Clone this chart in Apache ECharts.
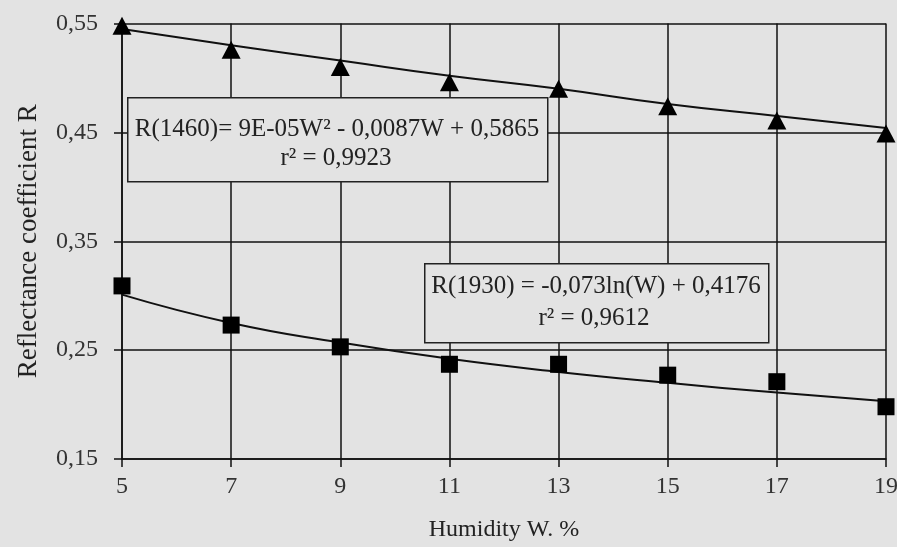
<!DOCTYPE html>
<html>
<head>
<meta charset="utf-8">
<script src="https://cdn.jsdelivr.net/npm/echarts@6/dist/echarts.min.js"></script>
<style>
html,body{margin:0;padding:0;background:#e3e3e3;}
#c{width:897px;height:547px;}
</style>
</head>
<body>
<div id="c"></div>
<script>
var humidity = [5, 7, 9, 11, 13, 15, 17, 19];
var r1460 = [0.548, 0.526, 0.510, 0.496, 0.490, 0.474, 0.461, 0.449];
var r1930 = [0.309, 0.273, 0.253, 0.237, 0.237, 0.227, 0.221, 0.198];
var trend1460 = [0.545, 0.530, 0.516, 0.502, 0.490, 0.476, 0.465, 0.454];
var trend1930 = [0.301, 0.275, 0.257, 0.242, 0.230, 0.220, 0.211, 0.203];
var yTicks = [0.15, 0.25, 0.35, 0.45, 0.55];
var eq1460 = ['R(1460)= 9E-05W\u00B2 - 0,0087W + 0,5865', 'r\u00B2 = 0,9923'];
var eq1930 = ['R(1930) = -0,073ln(W) + 0,4176', 'r\u00B2 = 0,9612'];

function pairs(xs, ys){ return xs.map(function(x,i){ return [x, ys[i]]; }); }

var chart = echarts.init(document.getElementById('c'));
var font = '"Liberation Serif", "Times New Roman", serif';
var txt = '#222';
chart.setOption({
  backgroundColor: '#e3e3e3',
  animation: false,
  grid: {left: 122, right: 11, top: 23.5, bottom: 88, containLabel: false, outerBoundsMode: 'none'},
  xAxis: {
    type: 'value', min: 5, max: 19, interval: 2,
    name: 'Humidity W. %', nameLocation: 'middle', nameGap: 59,
    nameTextStyle: {fontFamily: font, fontSize: 24, color: txt},
    axisLine: {show: true, lineStyle: {color: '#111', width: 1.5}},
    axisTick: {show: true, length: 8, inside: false, lineStyle: {color: '#111', width: 1.5}},
    axisLabel: {fontFamily: font, fontSize: 24, color: '#333', margin: 16},
    splitLine: {show: true, lineStyle: {color: '#111', width: 1.5}}
  },
  yAxis: {
    type: 'value', min: 0.15, max: 0.55, interval: 0.1,
    name: 'Reflectance coefficient R', nameLocation: 'middle', nameGap: 80,
    nameTextStyle: {fontFamily: font, fontSize: 27, color: txt},
    axisLine: {show: true, lineStyle: {color: '#111', width: 1.5}},
    axisTick: {show: true, length: 8, lineStyle: {color: '#111', width: 1.5}},
    axisLabel: {fontFamily: font, fontSize: 24, color: '#333', margin: 24,
      formatter: function(v){ var t = yTicks.reduce(function(a,b){return Math.abs(b-v)<Math.abs(a-v)?b:a;}); return t.toFixed(2).replace('.', ','); }},
    splitLine: {show: true, lineStyle: {color: '#111', width: 1.5}}
  },
  series: [
    {type: 'line', data: pairs(humidity, trend1460), symbol: 'none', smooth: true,
     lineStyle: {color: '#111', width: 2}, z: 3},
    {type: 'line', data: pairs(humidity, trend1930), symbol: 'none', smooth: true,
     lineStyle: {color: '#111', width: 2}, z: 3},
    {type: 'scatter', data: pairs(humidity, r1460), symbol: 'triangle', symbolSize: [19, 18],
     itemStyle: {color: '#000', opacity: 1}, z: 5},
    {type: 'scatter', data: pairs(humidity, r1930), symbol: 'rect', symbolSize: [17, 17],
     itemStyle: {color: '#000', opacity: 1}, z: 5}
  ],
  graphic: [
    {type: 'rect', left: 127, top: 97, z: 10,
     shape: {width: 420, height: 84},
     style: {fill: '#e3e3e3', stroke: '#222', lineWidth: 1.5}},
    {type: 'text', x: 337, y: 129, z: 11,
     style: {text: eq1460[0], font: '25px ' + font, fill: txt, textAlign: 'center', textVerticalAlign: 'middle'}},
    {type: 'text', x: 336, y: 158, z: 11,
     style: {text: eq1460[1], font: '25px ' + font, fill: txt, textAlign: 'center', textVerticalAlign: 'middle'}},
    {type: 'rect', left: 424, top: 263, z: 10,
     shape: {width: 344, height: 79},
     style: {fill: '#e3e3e3', stroke: '#222', lineWidth: 1.5}},
    {type: 'text', x: 596, y: 286, z: 11,
     style: {text: eq1930[0], font: '25px ' + font, fill: txt, textAlign: 'center', textVerticalAlign: 'middle'}},
    {type: 'text', x: 594, y: 318, z: 11,
     style: {text: eq1930[1], font: '25px ' + font, fill: txt, textAlign: 'center', textVerticalAlign: 'middle'}}
  ]
});
</script>
</body>
</html>
